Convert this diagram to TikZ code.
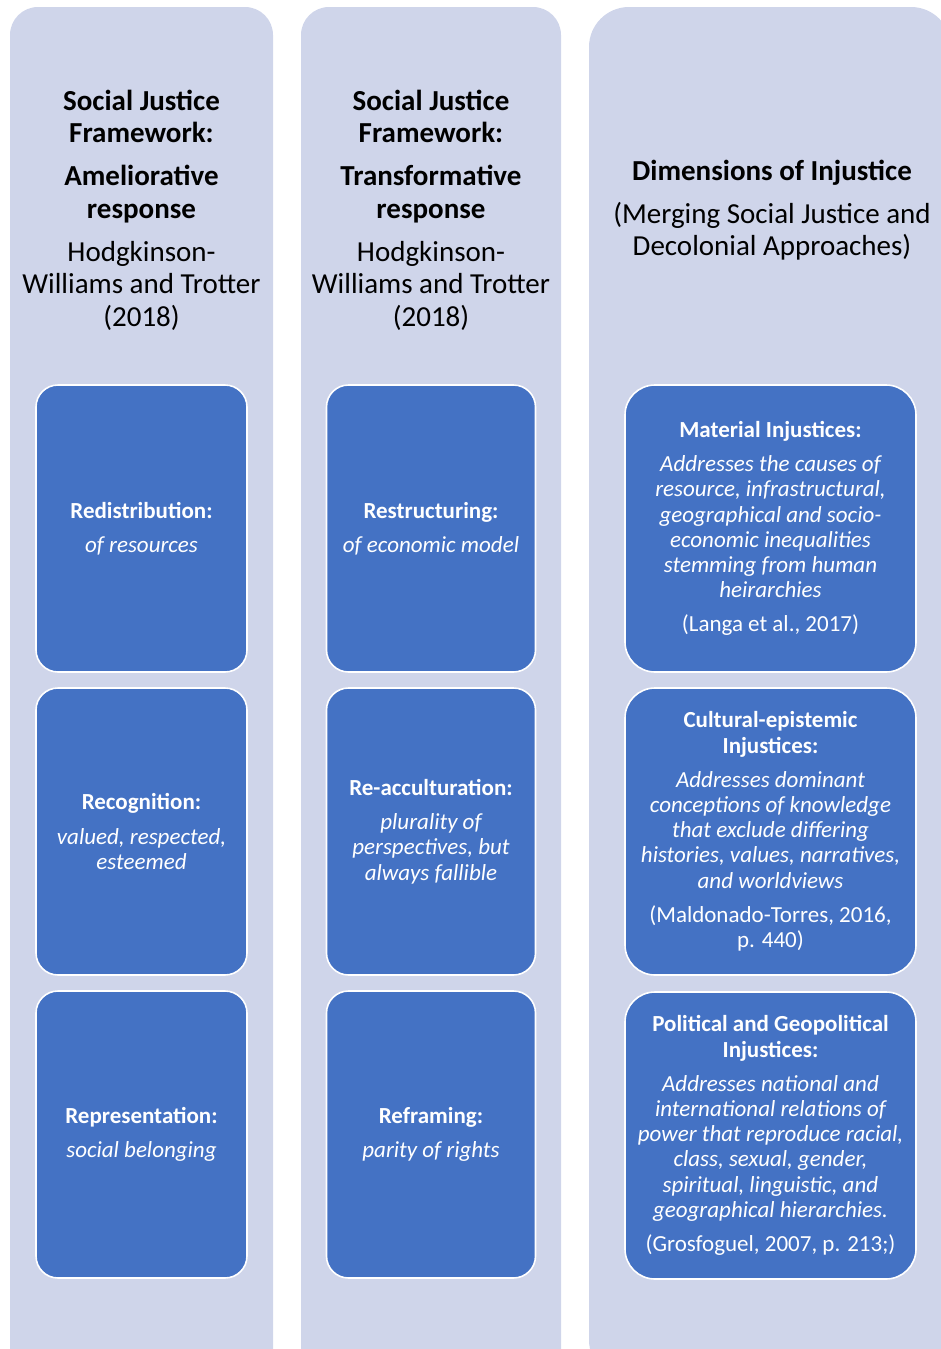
\documentclass[tikz,border=0pt]{standalone}
\usepackage{fontspec}
\setmainfont{Carlito}
\definecolor{colfill}{HTML}{CFD5EA}
\definecolor{boxfill}{HTML}{4472C4}
\tikzset{
  colshape/.style={fill=colfill, draw=none, rounded corners=#1, inner sep=0pt, outer sep=0pt},
  cardbox/.style={fill=boxfill, draw=white, line width=1.6pt, rounded corners=#1, text=white,
    inner sep=0pt, align=center, font=\fontsize{23}{25.2}\selectfont},
  headtext/.style={align=center, text=black, inner sep=0pt, font=\fontsize{29}{32.3}\selectfont}
}
\begin{document}
\begin{tikzpicture}[x=1pt,y=-1pt]
\useasboundingbox (0,0) rectangle (941,1349);
\begin{scope}
\clip (0,0) rectangle (941,1349);
% columns
\node[colshape=28pt, minimum width=263pt, minimum height=1373pt] (col1) at (141.5,693.5) {};
\node[colshape=28pt, minimum width=260pt, minimum height=1373pt] (col2) at (431,693.5) {};
\node[colshape=40pt, minimum width=362pt, minimum height=1373pt] (col3) at (770,693.5) {};
\end{scope}
% headers
\node[headtext] (h1) at (141.5,210) {\bfseries Social Justice\\\bfseries Framework:\\[11pt]\bfseries Ameliorative\\\bfseries response\\[11pt]Hodgkinson-\\Williams and Trotter\\(2018)};
\node[headtext] (h2) at (431,210) {\bfseries Social Justice\\\bfseries Framework:\\[11pt]\bfseries Transformative\\\bfseries response\\[11pt]Hodgkinson-\\Williams and Trotter\\(2018)};
\node[headtext] (h3) at (772,210) {\bfseries Dimensions of Injustice\\[11pt](Merging Social Justice and\\Decolonial Approaches)};
% column 1 boxes
\node[cardbox=22pt, minimum width=211pt, minimum height=287pt] (a1) at (141.5,528.5)
  {\bfseries Redistribution:\\[9pt]\itshape of resources};
\node[cardbox=22pt, minimum width=211pt, minimum height=287pt] (a2) at (141.5,831.5)
  {\bfseries Recognition:\\[9pt]\itshape valued, respected,\\\itshape esteemed};
\node[cardbox=22pt, minimum width=211pt, minimum height=287pt] (a3) at (141.5,1134.5)
  {\bfseries Representation:\\[9pt]\itshape social belonging};
% column 2 boxes
\node[cardbox=22pt, minimum width=209pt, minimum height=287pt] (b1) at (431,528.5)
  {\bfseries Restructuring:\\[9pt]\itshape of economic model};
\node[cardbox=22pt, minimum width=209pt, minimum height=287pt] (b2) at (431,831.5)
  {\bfseries Re-acculturation:\\[9pt]\itshape plurality of\\\itshape perspectives, but\\\itshape always fallible};
\node[cardbox=22pt, minimum width=209pt, minimum height=287pt] (b3) at (431,1134.5)
  {\bfseries Reframing:\\[9pt]\itshape parity of rights};
% column 3 boxes
\node[cardbox=30pt, minimum width=291pt, minimum height=287pt] (c1) at (770.5,528.5)
  {\bfseries Material Injustices:\\[9pt]\itshape Addresses the causes of\\\itshape resource, infrastructural,\\\itshape geographical and socio-\\\itshape economic inequalities\\\itshape stemming from human\\\itshape heirarchies\\[9pt](Langa et al., 2017)};
\node[cardbox=30pt, minimum width=291pt, minimum height=287pt] (c2) at (770.5,831.5)
  {\bfseries Cultural-epistemic\\\bfseries Injustices:\\[9pt]\itshape Addresses dominant\\\itshape conceptions of knowledge\\\itshape that exclude differing\\\itshape histories, values, narratives,\\\itshape and worldviews\\[9pt](Maldonado-Torres, 2016,\\p. 440)};
\node[cardbox=30pt, minimum width=291pt, minimum height=287pt] (c3) at (770.5,1135.5)
  {\bfseries Political and Geopolitical\\\bfseries Injustices:\\[9pt]\itshape Addresses national and\\\itshape international relations of\\\itshape power that reproduce racial,\\\itshape class, sexual, gender,\\\itshape spiritual, linguistic, and\\\itshape geographical hierarchies.\\[9pt](Grosfoguel, 2007, p. 213;)};
\end{tikzpicture}
\end{document}
